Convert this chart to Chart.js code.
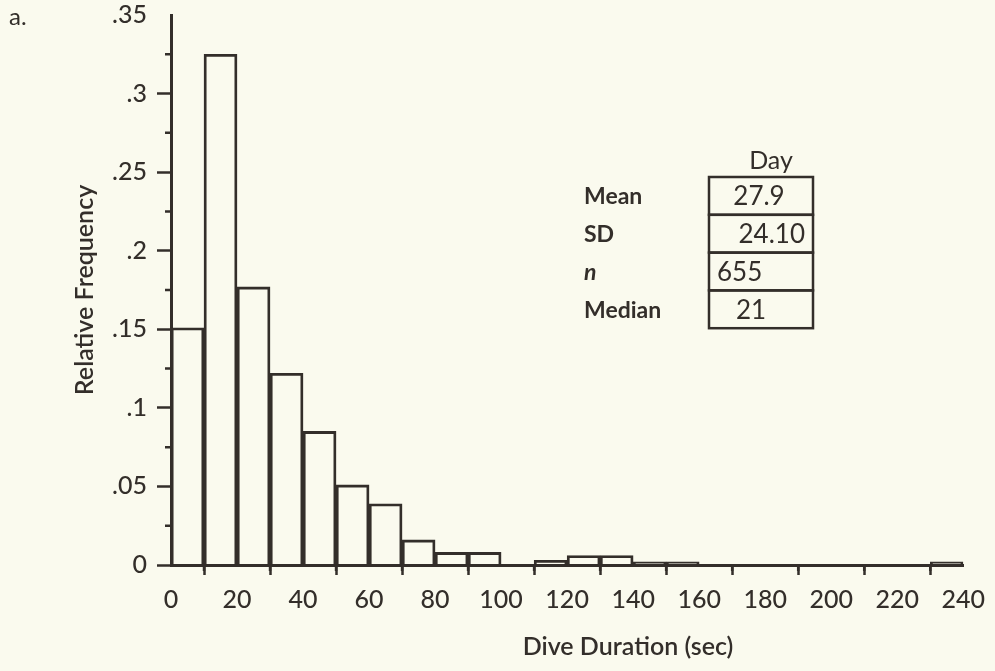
<!DOCTYPE html>
<html>
<head>
<meta charset="utf-8">
<script src="https://cdn.jsdelivr.net/npm/chart.js@4.4.1/dist/chart.umd.min.js"></script>
<style>
	html, body { margin: 0; padding: 0; background: #fafaee; }
	#wrap { position: relative; width: 995px; height: 671px; }
</style>
</head>
<body>
<div id="wrap"><canvas id="hist" width="995" height="671"></canvas></div>
<script>
// bin starts (sec), each bin is 10 sec wide
var binStarts = [0, 10, 20, 30, 40, 50, 60, 70, 80, 90, 100, 110, 120, 130, 140, 150, 160, 170, 180, 190, 200, 210, 220, 230];
var relFreq = [0.151, 0.325, 0.177, 0.122, 0.085, 0.051, 0.039, 0.016, 0.008, 0.008, 0, 0.003, 0.006, 0.006, 0.002, 0.002, 0, 0, 0, 0, 0, 0, 0, 0.002];
var statLabels = ['Mean', 'SD', 'n', 'Median'];
var statValues = ['27.9', '24.10', '655', '21'];
var statHeader = 'Day';

var ink = '#332e2a';
var fontFam = 'Lato, "Open Sans", sans-serif';

var points = binStarts.map(function (b, i) {
	return { x: b + 5, y: relFreq[i] };
});

function fmtY(v) {
	if (Math.abs(v) < 1e-9) return '0';
	return v.toFixed(2).replace(/0$/, '').replace(/^0/, '');
}

// minor ticks, the stats box and the extra labels
var decorPlugin = {
	id: 'decor',
	afterDraw: function (chart) {
		var ctx = chart.ctx;
		var xs = chart.scales.x, ys = chart.scales.y;
		ctx.save();
		ctx.strokeStyle = ink;
		ctx.lineWidth = 2.5;
		ctx.beginPath();
		for (var v = 0.025; v < 0.35; v += 0.05) {
			var py = ys.getPixelForValue(v);
			ctx.moveTo(xs.left - 6, py);
			ctx.lineTo(xs.left, py);
		}
		for (var u = 10; u < 240; u += 20) {
			var px = xs.getPixelForValue(u);
			ctx.moveTo(px, ys.bottom);
			ctx.lineTo(px, ys.bottom + 6);
		}
		ctx.stroke();

		ctx.fillStyle = ink;
		ctx.textBaseline = 'middle';
		ctx.font = '24px ' + fontFam;
		ctx.textAlign = 'left';
		ctx.fillText('a.', 9, 17);

		ctx.textAlign = 'center';
		ctx.font = '600 25px ' + fontFam;
		ctx.fillText('Dive Duration (sec)', 628, 647);

		// stats table
		var bx = 709, bw = 104, top = 177, rh = 37.8;
		ctx.font = '25px ' + fontFam;
		ctx.fillText(statHeader, 771, 161);
		ctx.lineWidth = 2.5;
		for (var i = 0; i < statLabels.length; i++) {
			var ry = top + i * rh;
			ctx.strokeRect(bx, ry, bw, rh);
			var cy = ry + rh / 2 + 1;
			ctx.textAlign = 'left';
			ctx.font = (statLabels[i] === 'n' ? 'italic bold ' : 'bold ') + '23px ' + fontFam;
			ctx.fillText(statLabels[i], 584, cy);
			ctx.font = '26px ' + fontFam;
			if (i === 0) { ctx.textAlign = 'center'; ctx.fillText(statValues[i], 759, cy); }
			else if (i === 1) { ctx.textAlign = 'right'; ctx.fillText(statValues[i], 805, cy); }
			else if (i === 2) { ctx.textAlign = 'left'; ctx.fillText(statValues[i], 717, cy); }
			else { ctx.textAlign = 'left'; ctx.fillText(statValues[i], 736, cy); }
		}
		ctx.restore();
	}
};

var chart = new Chart(document.getElementById('hist'), {
	type: 'bar',
	data: {
		datasets: [{
			data: points,
			backgroundColor: 'rgba(0,0,0,0)',
			borderColor: ink,
			borderWidth: 2.2,
			barPercentage: 1,
			categoryPercentage: 1
		}]
	},
	options: {
		responsive: false,
		animation: false,
		layout: { padding: { top: 15, right: 28, left: 0, bottom: 0 } },
		plugins: { legend: { display: false }, tooltip: { enabled: false } },
		scales: {
			x: {
				type: 'linear',
				min: 0,
				max: 240,
				offset: false,
				afterFit: function (s) { s.height = 106; },
				border: { color: ink, width: 3 },
				grid: { drawOnChartArea: false, tickLength: 10, tickColor: ink, tickWidth: 2.5 },
				ticks: { stepSize: 20, padding: 10, color: ink, font: { family: fontFam, size: 25, weight: '500' }, maxRotation: 0 }
			},
			y: {
				min: 0,
				max: 0.35,
				afterFit: function (s) { s.width = 171; s.paddingTop = 0; s.paddingBottom = 0; },
				border: { color: ink, width: 3 },
				grid: {
					drawOnChartArea: false,
					tickLength: 14,
					tickWidth: 2.5,
					tickColor: function (c) { return c.tick && c.tick.value > 0.34 ? 'rgba(0,0,0,0)' : ink; }
				},
				ticks: { stepSize: 0.05, padding: 10, color: ink, font: { family: fontFam, size: 25, weight: '500' }, callback: fmtY },
				title: { display: true, text: 'Relative Frequency', color: ink, font: { family: fontFam, size: 25, weight: '600' }, padding: { top: 70 } }
			}
		}
	},
	plugins: [decorPlugin]
});
</script>
</body>
</html>
